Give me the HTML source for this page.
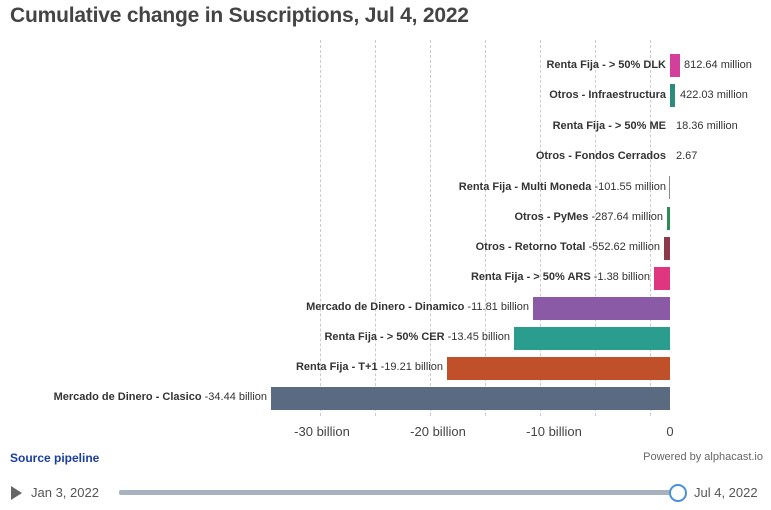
<!DOCTYPE html>
<html><head><meta charset="utf-8"><style>
body{margin:0;width:771px;height:510px;background:#fff;font-family:"Liberation Sans",sans-serif;position:relative;overflow:hidden}
.t{position:absolute;left:10px;top:4px;font-size:21px;font-weight:bold;color:#444;letter-spacing:-0.2px}
.g{position:absolute;top:40px;height:376px;border-left:1px dashed #ccc}
.b{position:absolute;height:23px}
.l{position:absolute;font-size:11px;color:#333;white-space:nowrap;line-height:14px}
.l b{color:#333}
.ax{position:absolute;top:424px;font-size:13px;color:#444;transform:translateX(-50%)}
</style></head><body>
<div class="t">Cumulative change in Suscriptions, Jul 4, 2022</div>
<div class="g" style="left:320px"></div><div class="g" style="left:375px"></div><div class="g" style="left:430px"></div><div class="g" style="left:485px"></div><div class="g" style="left:540px"></div><div class="g" style="left:595px"></div><div class="g" style="left:650px"></div>

<div class="b" style="left:670px;width:10px;top:54px;background:#d43f9b"></div>
<div class="b" style="left:670px;width:5px;top:84px;background:#2b8c7c"></div>
<div class="b" style="left:669px;width:1px;top:176px;background:#888"></div>
<div class="b" style="left:667px;width:3px;top:207px;background:#2e8b57"></div>
<div class="b" style="left:664px;width:6px;top:237px;background:#8b3a4a"></div>
<div class="b" style="left:654px;width:16px;top:267px;background:#e0357f"></div>
<div class="b" style="left:533px;width:137px;top:297px;background:#8a5aa6"></div>
<div class="b" style="left:514px;width:156px;top:327px;background:#2a9d8f"></div>
<div class="b" style="left:447px;width:223px;top:357px;background:#c0502a"></div>
<div class="b" style="left:271px;width:399px;top:387px;background:#5a6a80"></div>

<div class="l" style="right:105px;top:58px"><b>Renta Fija - &gt; 50% DLK</b></div><div class="l" style="left:684px;top:58px">812.64 million</div>
<div class="l" style="right:105px;top:88px"><b>Otros - Infraestructura</b></div><div class="l" style="left:680px;top:88px">422.03 million</div>
<div class="l" style="right:105px;top:119px"><b>Renta Fija - &gt; 50% ME</b></div><div class="l" style="left:676px;top:119px">18.36 million</div>
<div class="l" style="right:105px;top:149px"><b>Otros - Fondos Cerrados</b></div><div class="l" style="left:676px;top:149px">2.67</div>
<div class="l" style="right:105px;top:180px"><b>Renta Fija - Multi Moneda</b> -101.55 million</div>
<div class="l" style="right:108px;top:210px"><b>Otros - PyMes</b> -287.64 million</div>
<div class="l" style="right:111px;top:240px"><b>Otros - Retorno Total</b> -552.62 million</div>
<div class="l" style="right:121px;top:270px"><b>Renta Fija - &gt; 50% ARS</b> -1.38 billion</div>
<div class="l" style="right:242px;top:300px"><b>Mercado de Dinero - Dinamico</b> -11.81 billion</div>
<div class="l" style="right:261px;top:330px"><b>Renta Fija - &gt; 50% CER</b> -13.45 billion</div>
<div class="l" style="right:328px;top:360px"><b>Renta Fija - T+1</b> -19.21 billion</div>
<div class="l" style="right:504px;top:390px"><b>Mercado de Dinero - Clasico</b> -34.44 billion</div>

<div class="ax" style="left:322px">-30 billion</div>
<div class="ax" style="left:438px">-20 billion</div>
<div class="ax" style="left:554px">-10 billion</div>
<div class="ax" style="left:670px">0</div>

<div style="position:absolute;left:10px;top:451px;font-size:12px;color:#1a3fa0;font-weight:bold">Source pipeline</div>
<div style="position:absolute;right:8px;top:451px;font-size:11px;color:#666">Powered by alphacast.io</div>
<div style="position:absolute;left:11px;top:486px;width:0;height:0;border-left:11px solid #666;border-top:7px solid transparent;border-bottom:7px solid transparent"></div>
<div style="position:absolute;left:31px;top:485px;font-size:13px;color:#555">Jan 3, 2022</div>
<div style="position:absolute;left:119px;top:490px;width:560px;height:5px;background:#a8b2bf;border-radius:2px"></div>
<div style="position:absolute;left:669px;top:484px;width:14px;height:14px;border:2px solid #4a90d9;border-radius:50%;background:#fff"></div>
<div style="position:absolute;left:694px;top:485px;font-size:13px;color:#555">Jul 4, 2022</div>
</body></html>
